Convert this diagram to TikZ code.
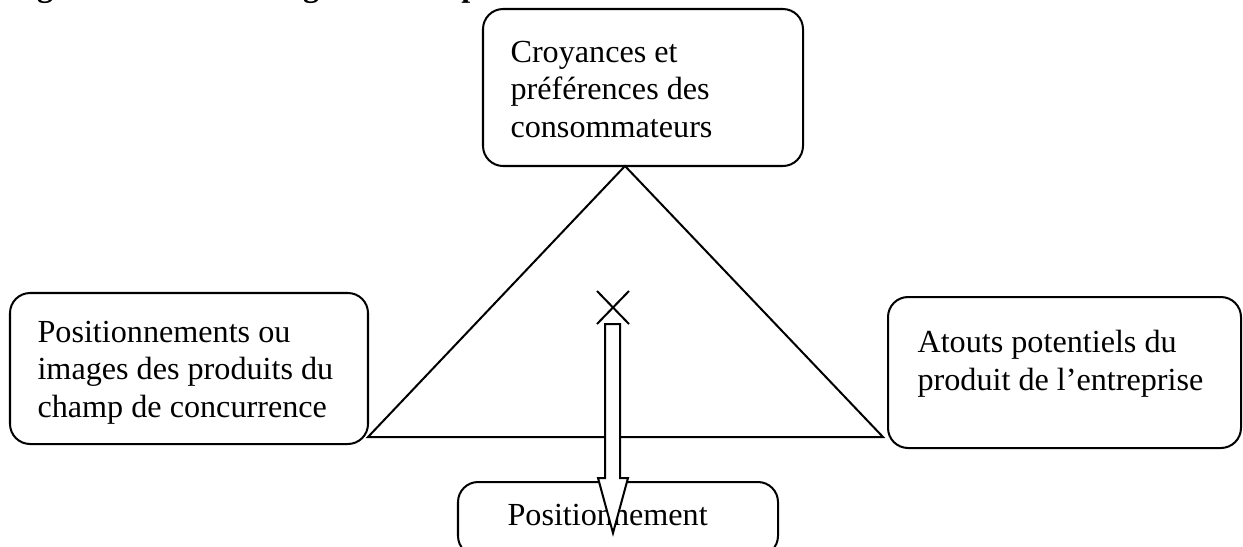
\documentclass[tikz,border=0pt]{standalone}
\usepackage{fontspec}
\setmainfont{Liberation Serif}
\usetikzlibrary{fit,shapes.misc}
\begin{document}
\begin{tikzpicture}[x=0.373pt,y=-0.373pt,
  stroke/.style={line width=0.75pt, line join=miter},
  box/.style={stroke, draw, rounded corners=7.5pt, inner sep=0pt},
  % anchored on the baseline of the last line
  lbl/.style={anchor=base west, align=left, inner sep=0pt,
              font=\fontsize{12}{13.9}\selectfont},
  ]
\useasboundingbox (0,0) rectangle (1243,547);
\clip (0,0) rectangle (1243,547);

% heading
\node[anchor=base west, inner sep=0pt, font=\fontsize{12}{14}\selectfont\bfseries]
  (title) at (8,-4) {Figure n° 1 : Le triangle d’or du positionnement};

% the three poles and the result
\node[box, fit={(483,9) (803,166)}] (top) {};
\node[box, fit={(10,293) (368,444)}] (left) {};
\node[box, fit={(888,297) (1241,448)}] (right) {};
\node[box, fit={(458,482) (778,556)}] (bottom) {};

\node[lbl] (toptxt) at (510,137) {Croyances et\\préférences des\\consommateurs};
\node[lbl] (lefttxt) at (37,417) {Positionnements ou\\images des produits du\\champ de concurrence};
\node[lbl] (righttxt) at (917,390) {Atouts potentiels du\\produit de l’entreprise};
\node[lbl] (bottomtxt) at (507,525) {Positionnement};

% triangle
\coordinate (apex) at (625,166);
\coordinate (bl) at (368,437);
\coordinate (br) at (883,437);
\draw[stroke] (apex) -- (bl) -- (br) -- cycle;

% chosen point and block arrow
\node[cross out, draw, stroke, minimum width=30*0.373pt, minimum height=31*0.373pt,
      inner sep=0pt] (cross) at (613,307.5) {};
\draw[stroke, fill=white] (605,324) -- (605,478) -- (598,478) -- (613,533)
  -- (628,478) -- (620,478) -- (620,324) -- cycle;
\end{tikzpicture}
\end{document}
